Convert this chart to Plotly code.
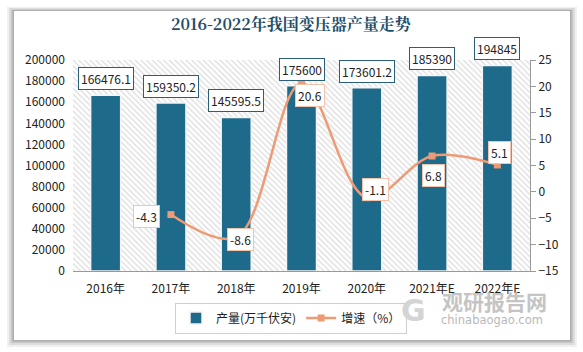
import plotly.graph_objects as go

years = ["2016年", "2017年", "2018年", "2019年", "2020年", "2021年E", "2022年E"]
output = [166476.1, 159350.2, 145595.5, 175600, 173601.2, 185390, 194845]
output_labels = ["166476.1", "159350.2", "145595.5", "175600", "173601.2", "185390", "194845"]
growth_years_idx = [1, 2, 3, 4, 5, 6]
growth = [-4.3, -8.6, 20.6, -1.1, 6.8, 5.1]

# label offsets (pixels) for growth labels
g_xshift = [-24, 4, 8, 9, 1, 2]
g_yshift = [-2, -2, -12, 8, -19, 12]

W, H = 583, 352
L, R, T, B = 73, 53, 60, 81
pw, ph = W - L - R, H - T - B

def px(x):
    return (x - L) / pw

def py(y):
    return (H - B - y) / ph

teal = "#1d6a8b"
salmon = "#ee9a74"

fig = go.Figure()

# hatched plot background
fig.add_trace(go.Bar(
    x=[3], y=[200000], width=[7],
    marker=dict(color="white", line=dict(width=0),
                pattern=dict(shape="\\", fgcolor="#b8b8b8", bgcolor="white", size=4, solidity=0.3,
                             fillmode="overlay")),
    hoverinfo="skip", showlegend=False,
))

fig.add_trace(go.Bar(
    x=list(range(len(years))), y=output, width=0.46,
    name="产量(万千伏安)",
    marker=dict(color=teal, line=dict(color="#f4f4f4", width=1.5)),
))

fig.add_trace(go.Scatter(
    x=growth_years_idx, y=growth, yaxis="y2",
    name="增速（%）", mode="lines+markers",
    line=dict(color=salmon, width=2.5, shape="spline", smoothing=1.0),
    marker=dict(symbol="square", size=7, color=salmon),
))

annotations = []
# watermark (drawn first, behind other texts)
annotations.append(dict(
    x=px(494), y=py(301), xref="paper", yref="paper", showarrow=False,
    xanchor="center", yanchor="middle",
    text="<b>观研报告网</b>",
    font=dict(family="Noto Sans CJK SC", size=21, color="#c4c4c4"),
))
annotations.append(dict(
    x=px(492), y=py(320), xref="paper", yref="paper", showarrow=False,
    xanchor="center", yanchor="middle",
    text="chinabaogao.com",
    font=dict(family="DejaVu Sans", size=11.5, color="#b8b8b8"),
))
annotations.append(dict(
    x=px(413), y=py(310), xref="paper", yref="paper", showarrow=False,
    xanchor="center", yanchor="middle",
    text="<b>G</b>",
    font=dict(family="DejaVu Sans", size=30, color="#d4d4d4"),
))

for i, (v, t) in enumerate(zip(output, output_labels)):
    annotations.append(dict(
        x=i, y=v, xref="x", yref="y", text=t, showarrow=False,
        yanchor="bottom", yshift=5,
        font=dict(family="Noto Sans CJK SC, Noto Sans", size=12, color="#222"),
        bgcolor="white", bordercolor="#2b5f78", borderwidth=1, borderpad=2,
    ))
for k, (i, v) in enumerate(zip(growth_years_idx, growth)):
    annotations.append(dict(
        x=i, y=v, xref="x", yref="y2", text=f"{v}", showarrow=False,
        xshift=g_xshift[k], yshift=g_yshift[k],
        font=dict(family="Noto Sans CJK SC, Noto Sans", size=12, color="#222"),
        bgcolor="white", bordercolor="#f3c3ab", borderwidth=1, borderpad=2,
    ))

# title
annotations.append(dict(
    x=px(291), y=py(23), xref="paper", yref="paper", showarrow=False,
    xanchor="center", yanchor="middle",
    text="<b>2016-2022年我国变压器产量走势</b>",
    font=dict(family="Noto Serif CJK SC, Noto Sans CJK SC", size=16, color="#1f4e6b"),
))

shapes = []
# card shadow layers
for d, op in [(7, 0.06), (5, 0.08), (3, 0.1), (1.5, 0.12)]:
    shapes.append(dict(type="rect", xref="paper", yref="paper", layer="below",
                       x0=px(14 - d), x1=px(570 + d), y0=py(340 + d), y1=py(11 - d * 0.6),
                       fillcolor=f"rgba(0,0,0,{op})", line=dict(width=0)))
shapes.append(dict(type="rect", xref="paper", yref="paper", layer="below",
                   x0=px(14), x1=px(570), y0=py(340), y1=py(11),
                   fillcolor="white", line=dict(width=0)))

fig.update_layout(
    width=W, height=H,
    margin=dict(l=L, r=R, t=T, b=B),
    paper_bgcolor="white", plot_bgcolor="rgba(0,0,0,0)",
    barmode="overlay",
    font=dict(family="Noto Sans CJK SC, Noto Sans", size=12, color="#222"),
    xaxis=dict(range=[-0.5, 6.5], tickmode="array", tickvals=list(range(len(years))), ticktext=years,
               showgrid=False, zeroline=False, showline=True, linecolor="#9a9a9a", linewidth=1,
               ticks="", tickfont=dict(size=12, color="#222"), ticklabelstandoff=7),
    yaxis=dict(range=[0, 200000], dtick=20000, tickformat="d", showgrid=False, zeroline=False,
               showline=False, ticks="", tickfont=dict(size=12, color="#222"), ticklabelstandoff=7),
    yaxis2=dict(range=[-15, 25], dtick=5, overlaying="y", side="right", showgrid=False, zeroline=False,
                showline=True, linecolor="#9a9a9a", linewidth=1, ticks="outside", ticklen=5,
                tickcolor="#9a9a9a", tickfont=dict(size=12, color="#222")),
    legend=dict(orientation="h", x=px(291), xanchor="center", y=py(318), yanchor="middle",
                bordercolor="#cfcfcf", borderwidth=1, bgcolor="white",
                font=dict(size=12, color="#222"), itemwidth=30, tracegroupgap=0),
    annotations=annotations,
    shapes=shapes,
    showlegend=True,
)

fig.write_html("out.html")
